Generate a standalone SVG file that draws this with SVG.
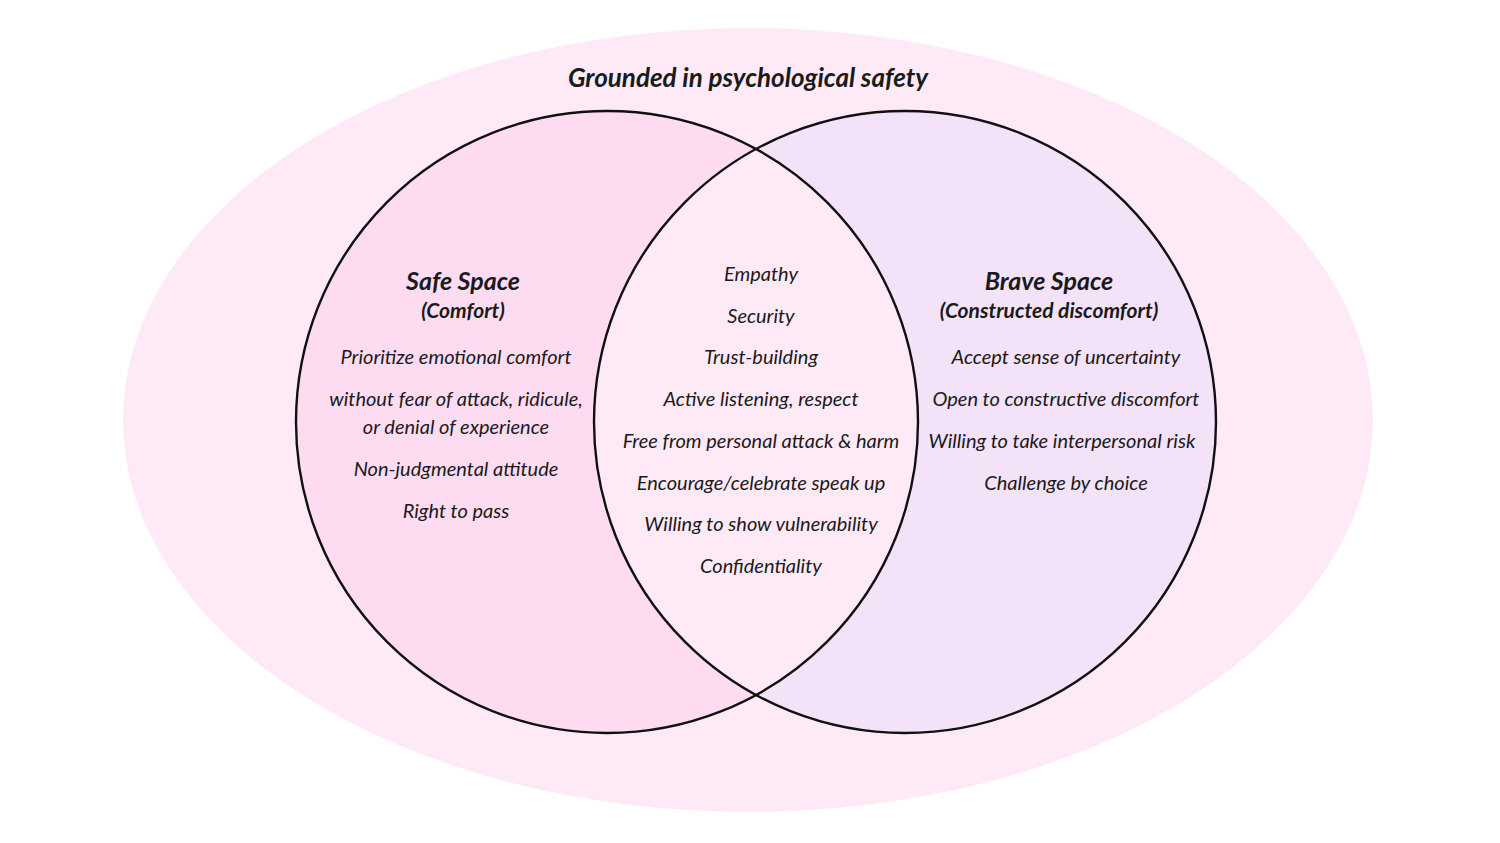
<svg xmlns="http://www.w3.org/2000/svg" width="1500" height="843" viewBox="0 0 1500 843">
<defs>
<clipPath id="clipL"><circle cx="607" cy="422" r="311"/></clipPath>
</defs>
<style>
text{font-family:Lato,"Open Sans","Liberation Sans",sans-serif;font-style:italic;fill:#1a1a1a;text-anchor:middle}
.item{font-size:20px}
.head{font-size:25px;font-weight:bold}
.sub{font-size:21px;font-weight:bold}
.title{font-size:26px;font-weight:bold}
.ring{fill:none;stroke:#111;stroke-width:2.4}
</style>
<rect width="1500" height="843" fill="#ffffff"/>
<g id="background">
<ellipse cx="748" cy="420" rx="625" ry="392" fill="#fdeaf6"/>
<text class="title" x="748" y="87">Grounded in psychological safety</text>
</g>
<g id="safe-space">
<circle cx="607" cy="422" r="311" fill="#fddcf2"/>
</g>
<g id="brave-space">
<circle cx="905" cy="422" r="311" fill="#f3e2f8"/>
</g>
<g id="overlap">
<circle cx="905" cy="422" r="311" fill="#feeaf6" clip-path="url(#clipL)"/>
</g>
<g id="outlines">
<circle class="ring" cx="607" cy="422" r="311"/>
<circle class="ring" cx="905" cy="422" r="311"/>
</g>
<g id="safe-text">
<text class="head" x="463" y="290">Safe Space</text>
<text class="sub" x="463" y="318">(Comfort)</text>
<text class="item" x="456" y="364">Prioritize emotional comfort</text>
<text class="item" x="456" y="406">without fear of attack,  ridicule,</text>
<text class="item" x="456" y="434">or denial of experience</text>
<text class="item" x="456" y="476">Non-judgmental attitude</text>
<text class="item" x="456" y="518">Right to pass</text>
</g>
<g id="overlap-text">
<text class="item" x="761" y="281">Empathy</text>
<text class="item" x="761" y="323">Security</text>
<text class="item" x="761" y="364">Trust-building</text>
<text class="item" x="761" y="406">Active listening, respect</text>
<text class="item" x="761" y="448">Free from personal attack &amp; harm</text>
<text class="item" x="761" y="490">Encourage/celebrate speak up</text>
<text class="item" x="761" y="531">Willing to show vulnerability</text>
<text class="item" x="761" y="573">Confidentiality</text>
</g>
<g id="brave-text">
<text class="head" x="1049" y="290">Brave Space</text>
<text class="sub" x="1049" y="318">(Constructed discomfort)</text>
<text class="item" x="1066" y="364">Accept sense of uncertainty</text>
<text class="item" x="1066" y="406">Open to constructive discomfort</text>
<text class="item" x="1062" y="448">Willing to take interpersonal risk</text>
<text class="item" x="1066" y="490">Challenge by choice</text>
</g>
</svg>
